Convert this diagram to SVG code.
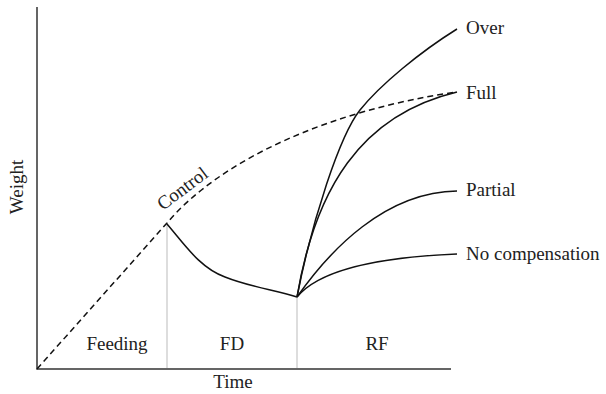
<svg xmlns="http://www.w3.org/2000/svg" width="606" height="394" viewBox="0 0 606 394">
<style>
text{font-family:"Liberation Serif","Times New Roman",serif;font-size:19px;fill:#222}
.c{fill:none;stroke:#111;stroke-width:1.5}
.d{fill:none;stroke:#111;stroke-width:1.5;stroke-dasharray:6 4}
.g{stroke:#bbb;stroke-width:1}
.ax{stroke:#333;stroke-width:1.5;fill:none}
</style>
<rect width="606" height="394" fill="#fff"/>
<g id="axes">
<path class="ax" d="M37,7 V369 H451"/>
<line class="g" x1="167" y1="224" x2="167" y2="368"/>
<line class="g" x1="297" y1="297" x2="297" y2="368"/>
<text x="23" y="187" text-anchor="middle" transform="rotate(-90 23 187)">Weight</text>
<text x="233" y="388" text-anchor="middle">Time</text>
<text x="117" y="350" text-anchor="middle">Feeding</text>
<text x="232" y="350" text-anchor="middle">FD</text>
<text x="377" y="350" text-anchor="middle">RF</text>
</g>
<g id="connectors">
<path id="control" class="d" d="M37,369 L167,223 C220,160 330,110 457,92"/>
<path id="fd" class="c" d="M167,224 C185,245 200,268 225,277 C250,287 275,290 297,297"/>
<path id="over" class="c" d="M297,297 C312,220 340,135 360,110 C380,85 420,52 457,29"/>
<path id="full" class="c" d="M297,297 C315,190 360,115 457,92"/>
<path id="partial" class="c" d="M297,297 C330,250 385,192 457,191"/>
<path id="nocomp" class="c" d="M297,297 C315,275 360,258 457,254"/>
</g>
<g id="labels">
<text x="163" y="211" transform="rotate(-37 163 211)">Control</text>
<text x="466" y="34">Over</text>
<text x="466" y="99">Full</text>
<text x="466" y="196">Partial</text>
<text x="466" y="260">No compensation</text>
</g>
</svg>
